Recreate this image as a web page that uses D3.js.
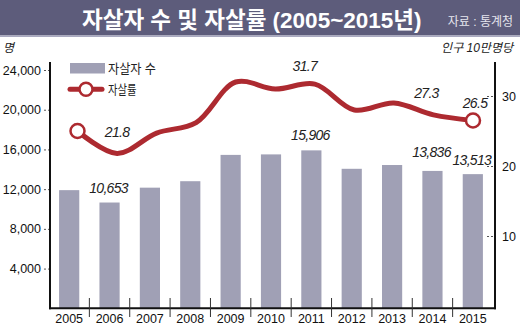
<!DOCTYPE html>
<html>
<head>
<meta charset="utf-8">
<script src="https://cdn.jsdelivr.net/npm/d3@7"></script>
<style>
  html, body { margin: 0; padding: 0; background: #fff; }
  svg { display: block; }
  text { font-family: "Liberation Sans", Arial, "Noto Sans CJK KR", sans-serif; }
</style>
</head>
<body>
<svg id="chart" width="520" height="325"></svg>
<script>
// Suicides (count) and suicide rate per 100k, 2005–2015
const years = ["2005","2006","2007","2008","2009","2010","2011","2012","2013","2014","2015"];
const suicides = [11900, 10653, 12150, 12800, 15450, 15500, 15906, 14050, 14430, 13836, 13513];
const rates = [25.0, 21.8, 24.7, 26.2, 32.0, 31.0, 31.7, 28.0, 29.0, 27.3, 26.5];
const leftTicks = [4000, 8000, 12000, 16000, 20000, 24000];
const rightTicks = [10, 20, 30];
// which points carry a value label
const countLabelYears = ["2006", "2011", "2014", "2015"];
const rateLabelYears = ["2006", "2011", "2014", "2015"];

const barColor = "#a0a0b5";
const lineColor = "#ad2a30";
const titleBg = "#5d5c7b";

const svg = d3.select("#chart");

// title band
svg.append("rect").attr("x", 0).attr("y", 0).attr("width", 520).attr("height", 35.5).attr("fill", titleBg);
svg.append("rect").attr("x", 0).attr("y", 35.5).attr("width", 520).attr("height", 1.5).attr("fill", "#a9a9c0");
svg.append("text").attr("x", 82).attr("y", 28)
  .attr("fill", "#fff").attr("font-size", 22.5).attr("font-weight", "bold")
  .text("자살자 수 및 자살률 (2005~2015년)");
svg.append("text").attr("x", 513).attr("y", 26).attr("text-anchor", "end")
  .attr("fill", "#e6e6ee").attr("font-size", 12)
  .text("자료 : 통계청");

// unit captions
svg.append("text").attr("x", 3).attr("y", 52).attr("font-size", 12).attr("font-style", "italic").attr("fill", "#222").text("명");
svg.append("text").attr("x", 513).attr("y", 52).attr("text-anchor", "end").attr("font-size", 12).attr("font-style", "italic").attr("fill", "#222").text("인구 10만명당");

// scales
const x = d3.scaleBand().domain(years).range([49, 493]).paddingInner(0.5).paddingOuter(0.25);
const xLine = d3.scalePoint().domain(years).range([77.5, 473]);
const yLeft = d3.scaleLinear().domain([0, 24000]).range([308.3, 70]);
const yRight = d3.scaleLinear().domain([10, 30]).range([236, 96]);

// bars
svg.append("g").selectAll("rect").data(years).join("rect")
  .attr("x", d => x(d))
  .attr("y", (d, i) => yLeft(suicides[i]))
  .attr("width", x.bandwidth())
  .attr("height", (d, i) => yLeft(0) - yLeft(suicides[i]))
  .attr("fill", barColor);

// left axis
const leftAxis = svg.append("g").attr("transform", "translate(50,0)")
  .call(d3.axisLeft(yLeft).tickValues(leftTicks).tickSize(7).tickPadding(2).tickFormat(d3.format(",")));
leftAxis.select(".domain").remove();
leftAxis.selectAll(".tick line").attr("stroke", "#555").attr("stroke-dasharray", "2,2");
leftAxis.selectAll(".tick text").attr("font-size", 12.5).attr("fill", "#111")
  .attr("font-family", "'Liberation Sans', Arial, sans-serif");
svg.append("line").attr("x1", 50).attr("x2", 50).attr("y1", 62).attr("y2", 309.3).attr("stroke", "#111").attr("stroke-width", 2);

// right axis
const rightAxis = svg.append("g").attr("transform", "translate(495,0)")
  .call(d3.axisRight(yRight).tickValues(rightTicks).tickSize(0).tickPadding(7));
rightAxis.select(".domain").remove();
rightAxis.selectAll(".tick text").attr("font-size", 12.5).attr("fill", "#111")
  .attr("font-family", "'Liberation Sans', Arial, sans-serif");
rightAxis.selectAll(".tick").append("line")
  .attr("x1", -8).attr("x2", -2).attr("stroke", "#555").attr("stroke-dasharray", "2,2");
svg.append("line").attr("x1", 495).attr("x2", 495).attr("y1", 62).attr("y2", 309.3).attr("stroke", "#111").attr("stroke-width", 2);

// bottom axis with category separators
svg.append("line").attr("x1", 49).attr("x2", 496).attr("y1", 308.3).attr("y2", 308.3).attr("stroke", "#111").attr("stroke-width", 2);
const gap = x.step() - x.bandwidth();
svg.append("g").selectAll("line").data(years.slice(1)).join("line")
  .attr("x1", d => x(d) - gap / 2).attr("x2", d => x(d) - gap / 2)
  .attr("y1", 298).attr("y2", 317).attr("stroke", "#333").attr("stroke-width", 1);
svg.append("g").selectAll("text").data(years).join("text")
  .attr("x", d => x(d) + x.bandwidth() / 2).attr("y", 322.5)
  .attr("text-anchor", "middle").attr("font-size", 12.5).attr("fill", "#111")
  .text(d => d);

// rate line
const line = d3.line().x((d, i) => xLine(years[i])).y(d => yRight(d)).curve(d3.curveCatmullRom.alpha(0.5));
svg.append("path").datum(rates).attr("d", line)
  .attr("fill", "none").attr("stroke", lineColor).attr("stroke-width", 5).attr("stroke-linecap", "round");
[0, years.length - 1].forEach(i => {
  svg.append("circle").attr("cx", xLine(years[i])).attr("cy", yRight(rates[i])).attr("r", 7)
    .attr("fill", "#fff").attr("stroke", lineColor).attr("stroke-width", 2.5);
});

// value labels
const labelStyle = sel => sel.attr("font-size", 14).attr("font-style", "italic")
  .attr("letter-spacing", "-0.7").attr("fill", "#222").attr("text-anchor", "middle");
const countLabelDy = {"2006": -10, "2011": -10, "2014": -13.5, "2015": -9.5};
svg.append("g").selectAll("text").data(countLabelYears).join("text")
  .attr("x", d => x(d) + x.bandwidth() / 2 - 1)
  .attr("y", d => yLeft(suicides[years.indexOf(d)]) + countLabelDy[d])
  .call(labelStyle)
  .text(d => d3.format(",")(suicides[years.indexOf(d)]));
const rateLabelDx = {"2006": 0, "2011": -10, "2014": -7, "2015": 2};
const rateLabelDy = {"2006": -16, "2011": -13, "2014": -17, "2015": -13};
svg.append("g").selectAll("text").data(rateLabelYears).join("text")
  .attr("x", d => xLine(d) + rateLabelDx[d])
  .attr("y", d => yRight(rates[years.indexOf(d)]) + rateLabelDy[d])
  .call(labelStyle)
  .text(d => d3.format(".1f")(rates[years.indexOf(d)]));

// legend
const lg = svg.append("g");
lg.append("rect").attr("x", 70).attr("y", 63).attr("width", 35).attr("height", 10.5).attr("fill", barColor);
lg.append("text").attr("x", 108).attr("y", 73).attr("font-size", 13).attr("fill", "#222")
  .attr("textLength", 48).attr("lengthAdjust", "spacingAndGlyphs").text("자살자 수");
lg.append("line").attr("x1", 70).attr("x2", 102).attr("y1", 89.3).attr("y2", 89.3)
  .attr("stroke", lineColor).attr("stroke-width", 5).attr("stroke-linecap", "round");
lg.append("circle").attr("cx", 86).attr("cy", 89.3).attr("r", 6.5)
  .attr("fill", "#fff").attr("stroke", lineColor).attr("stroke-width", 2.5);
lg.append("text").attr("x", 108).attr("y", 94).attr("font-size", 13).attr("fill", "#222")
  .attr("textLength", 28.5).attr("lengthAdjust", "spacingAndGlyphs").text("자살률");
</script>
</body>
</html>
